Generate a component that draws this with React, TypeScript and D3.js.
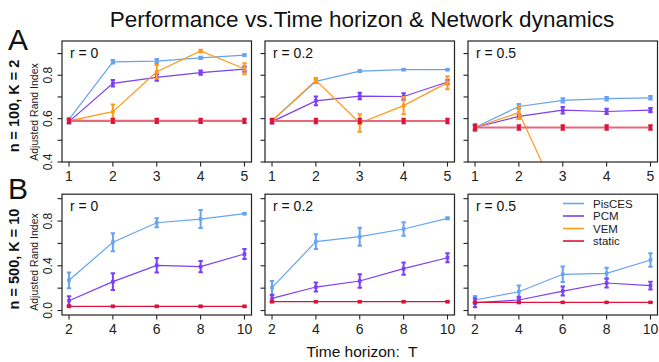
import React from "react";
import * as d3 from "d3";

const width = 659;
const height = 362;
const font = "'Liberation Sans', Arial, Helvetica, sans-serif";

// x values per row
const horizonsA = [1, 2, 3, 4, 5];
const horizonsB = [2, 4, 6, 8, 10];
const rates = ["0", "0.2", "0.5"];
const methods = ["PisCES", "PCM", "VEM", "static"];
const colors = ["#66a3f2", "#7b3ff5", "#ff9a1a", "#dc143c"];

const ticksA = [0.4, 0.5, 0.6, 0.7, 0.8, 0.9];
const tickLabelsA = ["0.4", "0.6", "0.8"];
const ticksB = [0, 0.2, 0.4, 0.6, 0.8, 1.0];
const tickLabelsB = ["0.0", "0.4", "0.8"];

// [mean, error] per horizon
// row A: n = 100, K = 2
const aR0PisCES = [[0.597, 0.006], [0.862, 0.008], [0.865, 0.01], [0.88, 0.005], [0.893, 0.004]];
const aR0PCM = [[0.586, 0.008], [0.763, 0.015], [0.79, 0.015], [0.812, 0.01], [0.828, 0.012]];
const aR0VEM = [[0.59, 0.006], [0.632, 0.033], [0.816, 0.031], [0.912, 0.006], [0.83, 0.025]];
const aR0Static = [[0.59, 0.01], [0.59, 0.01], [0.59, 0.01], [0.59, 0.01], [0.59, 0.01]];

const aR2PisCES = [[0.59, 0.005], [0.772, 0.008], [0.819, 0.004], [0.826, 0.003], [0.826, 0.003]];
const aR2PCM = [[0.586, 0.008], [0.682, 0.02], [0.704, 0.015], [0.702, 0.015], [0.769, 0.01]];
const aR2VEM = [[0.59, 0.005], [0.777, 0.01], [0.58, 0.04], [0.66, 0.04], [0.766, 0.03]];
const aR2Static = [[0.589, 0.01], [0.589, 0.01], [0.589, 0.01], [0.589, 0.01], [0.589, 0.01]];

const aR5PisCES = [[0.559, 0.008], [0.656, 0.012], [0.684, 0.01], [0.692, 0.008], [0.696, 0.008]];
const aR5PCM = [[0.559, 0.015], [0.61, 0.01], [0.639, 0.015], [0.633, 0.012], [0.639, 0.01]];
const aR5VEM = [[0.559, 0.008], [0.628, 0.03], [0.19, 0.03], [0.17, 0.03], [0.17, 0.03]];
const aR5Static = [[0.559, 0.01], [0.559, 0.01], [0.559, 0.01], [0.559, 0.01], [0.559, 0.01]];

// row B: n = 500, K = 10
const bR0PisCES = [[0.27, 0.07], [0.61, 0.08], [0.785, 0.04], [0.818, 0.08], [0.866, 0.006]];
const bR0PCM = [[0.088, 0.04], [0.258, 0.075], [0.404, 0.065], [0.392, 0.05], [0.505, 0.045]];
const bR0Static = [[0.037, 0.005], [0.037, 0.005], [0.037, 0.005], [0.037, 0.005], [0.037, 0.005]];

const bR2PisCES = [[0.204, 0.06], [0.616, 0.065], [0.66, 0.08], [0.729, 0.06], [0.824, 0.008]];
const bR2PCM = [[0.109, 0.03], [0.21, 0.04], [0.264, 0.06], [0.374, 0.055], [0.472, 0.04]];
const bR2Static = [[0.079, 0.004], [0.079, 0.004], [0.079, 0.004], [0.079, 0.004], [0.079, 0.004]];

const bR5PisCES = [[0.094, 0.035], [0.168, 0.055], [0.324, 0.07], [0.333, 0.05], [0.452, 0.06]];
const bR5PCM = [[0.07, 0.04], [0.094, 0.03], [0.174, 0.04], [0.246, 0.04], [0.222, 0.035]];
const bR5Static = [[0.073, 0.004], [0.073, 0.004], [0.073, 0.004], [0.073, 0.004], [0.073, 0.004]];

const colLeft = [62, 265, 468];
const panelW = 189.5;
const rows = [
  { top: 41, h: 121, xs: horizonsA, ydom: [0.4, 0.958], ticks: ticksA, labels: tickLabelsA,
    series: [[aR0PisCES, aR0PCM, aR0VEM, aR0Static], [aR2PisCES, aR2PCM, aR2VEM, aR2Static], [aR5PisCES, aR5PCM, aR5VEM, aR5Static]] },
  { top: 194.2, h: 120.8, xs: horizonsB, ydom: [-0.04, 1.04], ticks: ticksB, labels: tickLabelsB,
    series: [[bR0PisCES, bR0PCM, [], bR0Static], [bR2PisCES, bR2PCM, [], bR2Static], [bR5PisCES, bR5PCM, [], bR5Static]] },
];

function Panel({ row, ri, ci }) {
  const left = colLeft[ci];
  const x = d3.scaleLinear()
    .domain([row.xs[0] - (row.xs[4] - row.xs[0]) * 0.04, row.xs[4] + (row.xs[4] - row.xs[0]) * 0.04])
    .range([left, left + panelW]);
  const y = d3.scaleLinear().domain(row.ydom).range([row.top + row.h, row.top]);
  const bottom = row.top + row.h;
  const clipId = `clip-${ri}-${ci}`;
  const line = d3.line().x(d => x(d[0])).y(d => y(d[1]));

  return (
    <g>
      <defs>
        <clipPath id={clipId}>
          <rect x={left} y={row.top} width={panelW} height={row.h} />
        </clipPath>
      </defs>
      <g clipPath={`url(#${clipId})`}>
        {row.series[ci].map((s, mi) => {
          if (!s.length) return null;
          const pts = s.map((d, i) => [row.xs[i], d[0], d[1]]);
          const isStaticA = mi === 3 && ri === 0;
          return (
            <g key={mi}>
              <path d={line(pts)} fill="none" stroke={isStaticA ? "#e8687a" : colors[mi]}
                strokeWidth={isStaticA ? 2.2 : 1.2} />
              {pts.map((p, i) => (
                <g key={i}>
                  {p[2] > 0 && (
                    <g stroke={colors[mi]} strokeWidth={2}>
                      <line x1={x(p[0])} x2={x(p[0])} y1={y(p[1] - p[2])} y2={y(p[1] + p[2])} />
                      <line x1={x(p[0]) - 2.2} x2={x(p[0]) + 2.2} y1={y(p[1] - p[2])} y2={y(p[1] - p[2])} />
                      <line x1={x(p[0]) - 2.2} x2={x(p[0]) + 2.2} y1={y(p[1] + p[2])} y2={y(p[1] + p[2])} />
                    </g>
                  )}
                  <rect x={x(p[0]) - 1.8} y={y(p[1]) - 1.8} width={3.6} height={3.6} fill={colors[mi]} />
                </g>
              ))}
            </g>
          );
        })}
      </g>
      <rect x={left} y={row.top} width={panelW} height={row.h} fill="none" stroke="#222" strokeWidth={1.2} />
      {row.ticks.map(t => (
        <line key={t} x1={left - 4.5} x2={left} y1={y(t)} y2={y(t)} stroke="#222" strokeWidth={1.1} />
      ))}
      {ci === 0 && row.labels.map(l => (
        <text key={l} transform={`translate(${left - 10},${y(+l)}) rotate(-90)`} textAnchor="middle"
          fontSize={12} fontFamily={font} fill="#222">{l}</text>
      ))}
      {row.xs.map(t => (
        <g key={t}>
          <line x1={x(t)} x2={x(t)} y1={bottom} y2={bottom + 4.5} stroke="#222" strokeWidth={1.1} />
          <text x={x(t)} y={bottom + 19} textAnchor="middle" fontSize={14} fontFamily={font} fill="#222">{t}</text>
        </g>
      ))}
      <text x={left + 8} y={row.top + 17} fontSize={14} fontFamily={font} fill="#111">{`r = ${rates[ci]}`}</text>
    </g>
  );
}

export default function App() {
  const legendX = 563;
  const legendY = 203.5;
  return (
    <svg width={width} height={height} style={{ position: "absolute", left: 0, top: 0, background: "#fff" }}>
      <rect width={width} height={height} fill="#fff" />
      <text x={362} y={27} textAnchor="middle" fontSize={22.5} fontFamily={font} fill="#111">
        Performance vs.Time horizon &amp; Network dynamics
      </text>
      <text x={8} y={50} fontSize={30} fontFamily={font} fill="#111">A</text>
      <text x={8} y={199} fontSize={30} fontFamily={font} fill="#111">B</text>
      <text transform="translate(19,106) rotate(-90)" textAnchor="middle" fontSize={14.5}
        fontWeight="bold" fontFamily={font} fill="#111">n = 100, K = 2</text>
      <text transform="translate(38,112) rotate(-90)" textAnchor="middle" fontSize={10.5}
        fontFamily={font} fill="#222">Adjusted Rand Index</text>
      <text transform="translate(19,259) rotate(-90)" textAnchor="middle" fontSize={14.5}
        fontWeight="bold" fontFamily={font} fill="#111">n = 500, K = 10</text>
      <text transform="translate(38,262) rotate(-90)" textAnchor="middle" fontSize={10.5}
        fontFamily={font} fill="#222">Adjusted Rand Index</text>
      {rows.map((row, ri) => colLeft.map((_, ci) => (
        <Panel key={`${ri}-${ci}`} row={row} ri={ri} ci={ci} />
      )))}
      {methods.map((m, i) => (
        <g key={m}>
          <line x1={legendX} x2={legendX + 21} y1={legendY + i * 12.5} y2={legendY + i * 12.5}
            stroke={colors[i]} strokeWidth={1.6} />
          <text x={legendX + 30} y={legendY + i * 12.5 + 4} fontSize={11.5} fontFamily={font} fill="#222">{m}</text>
        </g>
      ))}
      <text x={362} y={357} textAnchor="middle" fontSize={15.5} fontFamily={font} fill="#111" xmlSpace="preserve">
        Time horizon:  T
      </text>
    </svg>
  );
}
